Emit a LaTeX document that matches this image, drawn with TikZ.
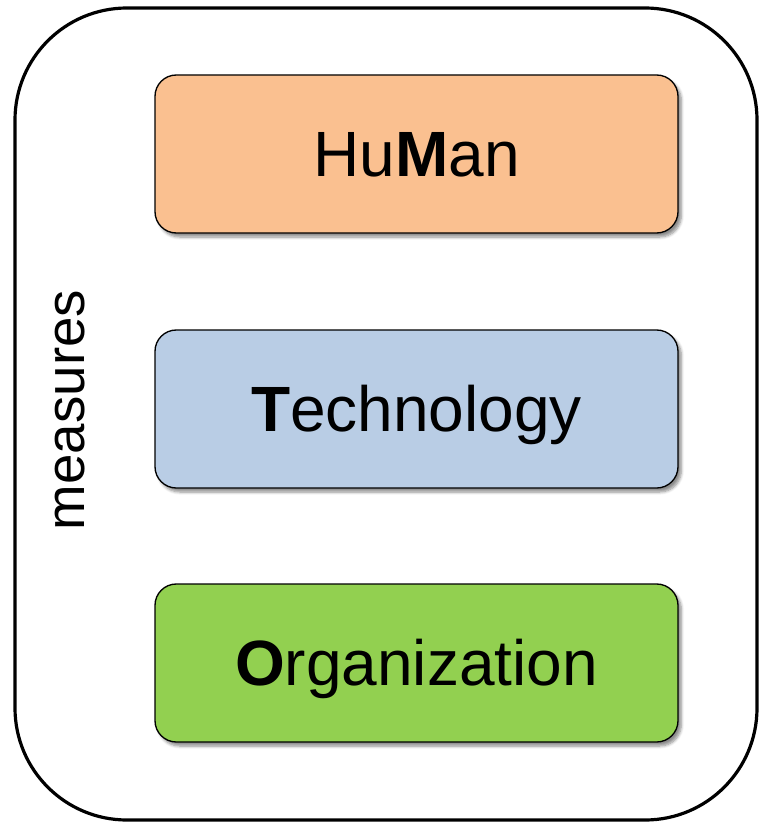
\documentclass[tikz,border=0pt]{standalone}
\usepackage{fontspec}
\setmainfont{Liberation Sans}
\usetikzlibrary{shadows.blur}
\definecolor{humanfill}{RGB}{250,192,144}
\definecolor{techfill}{RGB}{185,205,229}
\definecolor{orgfill}{RGB}{146,208,80}
\tikzset{
  layerbox/.style={draw=black, line width=1pt, rounded corners=16pt,
    minimum width=392.25pt, minimum height=118.5pt, inner sep=0pt,
    font=\fontsize{48}{58}\selectfont, text height=34pt, text depth=0pt,
    blur shadow={shadow xshift=2.5pt, shadow yshift=-3pt, shadow blur steps=6, shadow opacity=45}},
}
\begin{document}
\begin{tikzpicture}[x=0.75pt,y=0.75pt,yscale=-1,xscale=1]
\useasboundingbox (0,0) rectangle (761,824);

%Outer frame
\draw [line width=2.4pt, rounded corners=84pt] (15,8) rectangle (757,820);

%Side label
\node (measures) [rotate=90, font=\fontsize{41}{49}\selectfont] at (70,410) {measures};

%Layers
\node (human) [layerbox, fill=humanfill] at (416.5,154) {Hu\textbf{M}an};
\node (tech) [layerbox, fill=techfill] at (416.5,409) {\textbf{T}echnology};
\node (org) [layerbox, fill=orgfill] at (416.5,663) {\textbf{O}rganization};

\end{tikzpicture}
\end{document}
